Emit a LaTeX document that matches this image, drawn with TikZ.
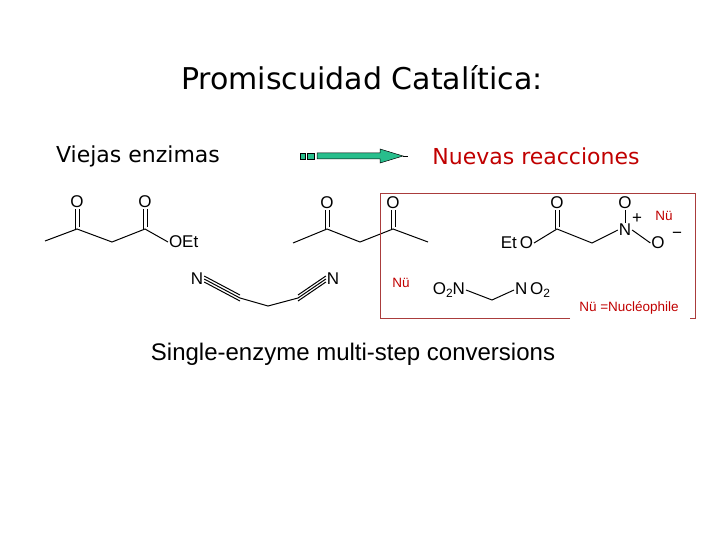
\documentclass[tikz,border=0pt]{standalone}
\usepackage{fontspec}
\setmainfont{Liberation Sans}
\newfontfamily\titlefont{DejaVu Sans}
\definecolor{rd}{RGB}{192,0,0}
\definecolor{bx}{RGB}{170,60,60}
\definecolor{gr}{RGB}{40,190,140}
\newcommand{\mysub}[1]{\raisebox{-0.35ex}{\fontsize{12}{12}\selectfont #1}}
\begin{document}
\begin{tikzpicture}[x=1pt,y=-1pt,line width=1pt,
  atm/.style={inner sep=0.5pt,font=\fontsize{17}{17}\selectfont},
  nu/.style={inner sep=0pt,text=rd,font=\fontsize{13.5}{13.5}\selectfont}]
\useasboundingbox (0,0) rectangle (720,540);
\node (title) at (362,78) {\titlefont\fontsize{30}{30}\selectfont Promiscuidad Catalítica:};
\node (old) at (138,156) {\titlefont\fontsize{22}{22}\selectfont Viejas enzimas};
\node[text=rd] (new) at (536,156) {\titlefont\fontsize{22}{22}\selectfont Nuevas reacciones};
% arrow
\fill[gr,draw=black,line width=0.5pt] (300,153) rectangle (305,159);
\fill[gr,draw=black,line width=0.5pt] (307,153) rectangle (314,159);
\fill[gr,draw=black,line width=0.5pt] (317,153) -- (380,153) -- (380,149) -- (403,156) -- (380,163) -- (380,159) -- (317,159) -- cycle;
\draw[line width=0.8pt] (403,156) -- (408,156);
% ketoester
\coordinate (a1) at (45,241); \coordinate (a2) at (77,229); \coordinate (a3) at (112,242); \coordinate (a4) at (145,229);
\node[atm] (o1) at (77,202) {O}; \node[atm] (o2) at (145,202) {O};
\node[atm,anchor=west] (oet) at (168,242) {OEt};
\draw (a1)--(a2)--(a3)--(a4)--(oet.west);
\draw ([xshift=-2]o1.south)--([xshift=-2]a2); \draw ([xshift=2]o1.south)--([xshift=2,yshift=2]a2);
\draw ([xshift=-2]o2.south)--([xshift=-2]a4); \draw ([xshift=2]o2.south)--([xshift=2,yshift=2]a4);
% malononitrile
\node[atm] (n1) at (197,279) {N}; \node[atm] (n2) at (333,279) {N};
\coordinate (m1) at (240,298); \coordinate (mc) at (268,306); \coordinate (m2) at (298,298);
\draw (n1.east)--(m1); \draw ([yshift=-3]n1.east)--([yshift=-3]m1); \draw ([yshift=3]n1.east)--([yshift=3]m1);
\draw (m1)--(mc)--(m2);
\draw (n2.west)--(m2); \draw ([yshift=-3]n2.west)--([yshift=-3]m2); \draw ([yshift=3]n2.west)--([yshift=3]m2);
% diketone
\coordinate (b1) at (293,243); \coordinate (b2) at (327,229); \coordinate (b3) at (360,242); \coordinate (b4) at (393,229); \coordinate (b5) at (428,242);
\node[atm] (o3) at (327,203) {O}; \node[atm] (o4) at (393,203) {O};
\draw (b1)--(b2)--(b3)--(b4)--(b5);
\draw ([xshift=-2]o3.south)--([xshift=-2]b2); \draw ([xshift=2]o3.south)--([xshift=2,yshift=2]b2);
\draw ([xshift=-2]o4.south)--([xshift=-2]b4); \draw ([xshift=2]o4.south)--([xshift=2,yshift=2]b4);
% red box
\draw[bx,line width=0.8pt] (570,318) -- (380,318) -- (380,193) -- (695,193) -- (695,318) -- (690,318);
% ethyl nitroacetate
\node[atm,anchor=east] (eto) at (534,243) {Et\,O};
\coordinate (c1) at (557,229); \coordinate (c2) at (592,243);
\node[atm] (o5) at (557,203) {O};
\node[atm] (nn) at (625,230) {N};
\node[atm] (o6) at (625,203) {O};
\node[atm] (om) at (658,243) {O};
\node[inner sep=0pt,font=\fontsize{17}{17}\selectfont] (plus) at (637,219) {+};
\node[inner sep=0pt,font=\fontsize{17}{17}\selectfont] (minus) at (677,235) {−};
\node[nu] (nu1) at (664,216) {Nü};
\draw (eto.east)--(c1)--(c2)--(nn.west); \draw (nn.east)--(om.west);
\draw ([xshift=-2]o5.south)--([xshift=-2]c1); \draw ([xshift=2]o5.south)--([xshift=2,yshift=2]c1);
\draw (o6.south)--(nn.north);
% dinitromethane
\node[nu] (nu2) at (401,283) {Nü};
\node[atm,anchor=east] (o2n) at (466,290) {O\mysub{2}N};
\node[atm,anchor=west] (no2) at (514,290) {N\,O\mysub{2}};
\coordinate (d1) at (492,300);
\draw (o2n.east)--(d1)--(no2.west);
\node[nu] (def) at (629,308) {Nü =Nucléophile};
% bottom text
\node (bot) at (353,354) {\fontsize{24}{24}\selectfont Single-enzyme multi-step conversions};
\end{tikzpicture}
\end{document}
